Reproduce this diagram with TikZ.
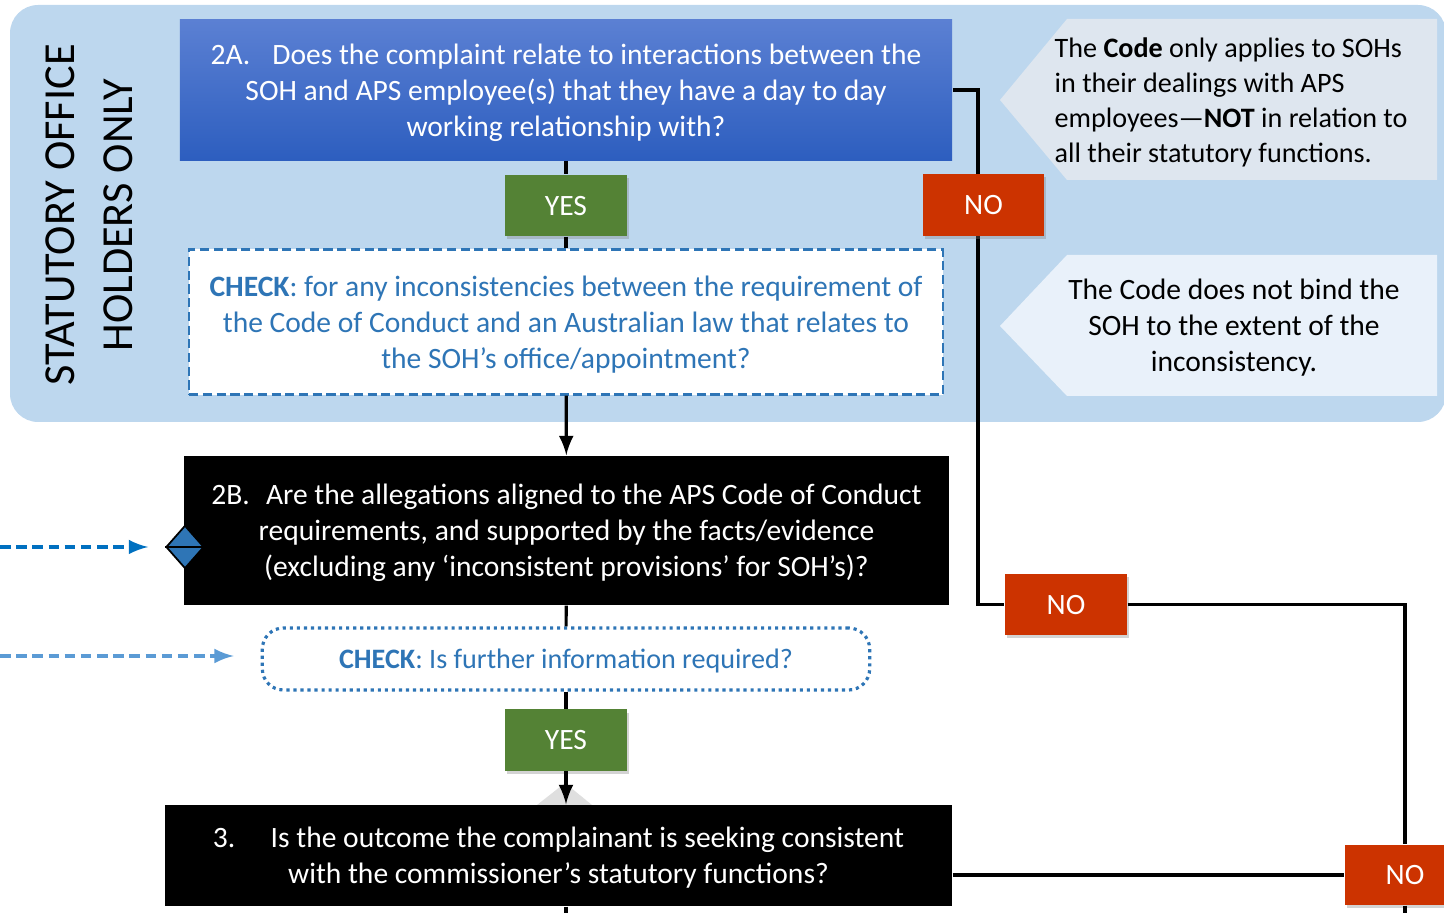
\documentclass[tikz,border=0pt]{standalone}
\usepackage{fontspec}
\setmainfont{Carlito}
\usetikzlibrary{shapes,arrows,shadows,positioning}

\definecolor{panelblue}{HTML}{BDD7EE}
\definecolor{qtop}{HTML}{5B80D3}
\definecolor{qbot}{HTML}{2D5EBF}
\definecolor{yesgreen}{HTML}{548235}
\definecolor{nored}{HTML}{CC3300}
\definecolor{checkblue}{HTML}{2E75B6}
\definecolor{notegrey}{HTML}{DEE6EF}
\definecolor{notelight}{HTML}{E9F1FA}
\definecolor{linkblue}{HTML}{0070C0}
\definecolor{linklight}{HTML}{5B9BD5}

\begin{document}
\begin{tikzpicture}[x=0.01cm,y=-0.01cm,
    txt/.style={font=\fontsize{8.4}{10.2}\selectfont, align=center, inner sep=0pt, text depth=0pt},
    qbox/.style={txt, fill=black, text=white},
    answer/.style={txt, text=white, minimum width=1.22cm, minimum height=0.61cm,
        drop shadow={shadow xshift=0.6pt, shadow yshift=-0.9pt, opacity=0.35}},
    yesbox/.style={answer, fill=yesgreen},
    nobox/.style={answer, fill=nored},
    line/.style={line width=0.9pt},
    arr/.style={line, ->, >=latex}]
    \useasboundingbox (0,0) rectangle (1444,913);

    % Panel for the statutory office holders part:
    \fill [panelblue, rounded corners=8] (10,5) rectangle (1446,422);
    \node [rotate=90, align=center, inner sep=0pt, font=\fontsize{12.6}{16.5}\selectfont]
        (soh) at (89,215) {STATUTORY OFFICE\\HOLDERS ONLY};

    % Notes on the right are simply filled shapes with a text on top:
    \fill [notegrey]  (1000,100) -- (1067,19) -- (1437,19) -- (1437,180) -- (1067,180) -- cycle;
    \fill [notelight] (1000,326) -- (1067,255) -- (1437,255) -- (1437,396) -- (1067,396) -- cycle;
    \node [txt, align=left, anchor=west, font=\fontsize{8.0}{9.9}\selectfont] (noteA) at (1054,100)
        {The \textbf{Code} only applies to SOHs\\in their dealings with APS\\
         employees\textemdash\textbf{NOT} in relation to\\all their statutory functions.};
    \node [txt] (noteB) at (1234,325)
        {The Code does not bind the\\SOH to the extent of the\\inconsistency.};

    % Question boxes:
    \node [txt, text=white, top color=qtop, bottom color=qbot,
        minimum width=7.72cm, minimum height=1.40cm] (q2a) at (566,90)
        {2A.\hspace{0.75em}Does the complaint relate to interactions between the\\
         SOH and APS employee(s) that they have a day to day\\working relationship with?};
    \node [txt, text=checkblue, fill=white, draw=checkblue, line width=0.6pt,
        dash pattern=on 2.6pt off 1.3pt, minimum width=7.53cm, minimum height=1.45cm]
        (chk1) at (566,322)
        {\textbf{CHECK}: for any inconsistencies between the requirement of\\
         the Code of Conduct and an Australian law that relates to\\the SOH’s office/appointment?};
    \node [qbox, minimum width=7.65cm, minimum height=1.49cm] (q2b) at (566.5,530.5)
        {2B.\hspace{0.55em}Are the allegations aligned to the APS Code of Conduct\\
         requirements, and supported by the facts/evidence\\
         (excluding any ‘inconsistent provisions’ for SOH’s)?};
    \node [txt, text=checkblue, fill=white, draw=checkblue, line width=0.9pt,
        dash pattern=on 0.9pt off 1.1pt, rounded corners=6, font=\fontsize{8.0}{10.2}\selectfont,
        minimum width=6.07cm, minimum height=0.62cm] (chk2) at (566,659)
        {\textbf{CHECK}: Is further information required?};
    \node [qbox, minimum width=7.87cm, minimum height=1.01cm] (q3) at (558.5,855.5)
        {3.\hspace{1.2em}Is the outcome the complainant is seeking consistent\\
         with the commissioner’s statutory functions?};

    % Marker on the left edge of 2B:
    \node [diamond, draw=black, fill=checkblue, line width=0.5pt, inner sep=0pt,
        minimum width=0.38cm, minimum height=0.43cm] (dmd) at (185,547) {};
    \draw [line width=0.6pt] (dmd.west) -- (dmd.east);

    % Answers:
    \node [yesbox] (yes1) at (566,205.5) {YES};
    \node [yesbox] (yes2) at (566,740) {YES};
    \node [nobox] (no2) at (1066,604.5) {NO};
    \node [nobox, minimum width=1.20cm, minimum height=0.60cm] (no3) at (1405,875) {NO};

    % Connectors:
    \draw [line] (q2a) -- (yes1);
    \draw [line] (yes1) -- (chk1);
    \draw [arr] (chk1) -- (q2b);
    \draw [line] (q2b) -- (chk2);
    \draw [line] (chk2) -- (yes2);
    \fill [gray!25] (537,805) -- (565,783) -- (592,805) -- cycle;
    \draw [arr] (yes2.south) -- (yes2.south |- q3.north);
    \draw [line] (q2a.east) -- ++(25,0) coordinate (bend) |- (no2.west);
    \draw [line] (no2.east) -| (no3.north);
    \draw [line] (q3.east |- no3.west) -- (no3.west);
    \coordinate (q3out) at (566,925);
    \coordinate (no3out) at (1405,925);
    \draw [line] (q3.south -| q3out) -- (q3out);
    \draw [line] (no3.south) -- (no3out);
    % this one sits on the vertical line
    \node [nobox, minimum width=1.21cm, minimum height=0.62cm] (no1) at (983.5,205) {NO};

    % Incoming links from the left:
    \coordinate (inA) at (0,547);
    \coordinate (inB) at (0,656);
    \draw [line, linkblue, dash pattern=on 3pt off 1.6pt, ->, >=latex,
        shorten >=0.17cm] (inA) -- (dmd.west);
    \draw [line, linklight, dash pattern=on 3pt off 1.6pt, ->, >=latex,
        shorten >=0.27cm] (inB) -- (inB -| chk2.west);
\end{tikzpicture}
\end{document}
